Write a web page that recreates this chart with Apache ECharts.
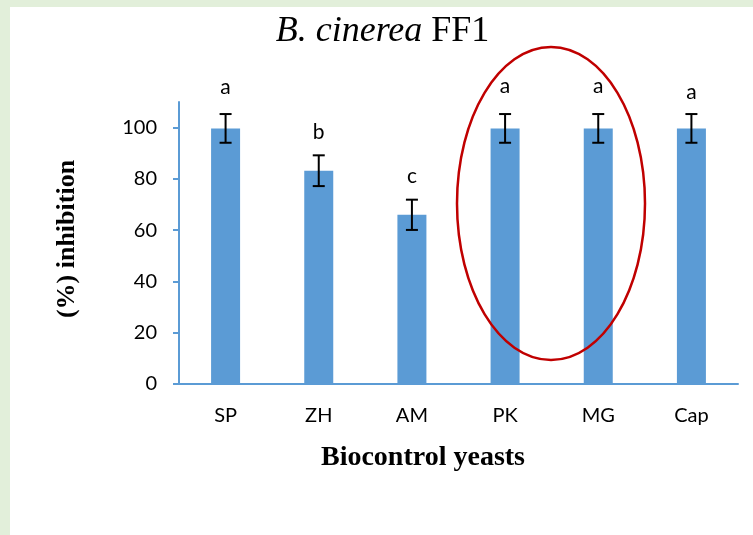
<!DOCTYPE html>
<html>
<head>
<meta charset="utf-8">
<script src="https://cdn.jsdelivr.net/npm/echarts@6/dist/echarts.min.js"></script>
<style>
html,body{margin:0;padding:0;background:#e2efda;}
#white{position:absolute;left:10px;top:7px;width:743px;height:528px;background:#ffffff;}
#chart{position:absolute;left:0;top:0;width:753px;height:535px;}
</style>
</head>
<body>
<div id="white"></div>
<div id="chart"></div>
<script>
const categories = ['SP', 'ZH', 'AM', 'PK', 'MG', 'Cap'];
const values = [99.7, 83.2, 66.0, 99.7, 99.7, 99.7];
const errors = [5.6, 6.0, 5.9, 5.6, 5.6, 5.6];
const letters = ['a', 'b', 'c', 'a', 'a', 'a'];
const yTicks = [0, 20, 40, 60, 80, 100];

const letterGap = [27, 23, 23, 28, 28, 22];

const chart = echarts.init(document.getElementById('chart'), null, {renderer: 'canvas'});
const blue = '#5b9bd5';
const labelFont = 'Lato, "Open Sans", sans-serif';
const serif = '"Liberation Serif", "Times New Roman", serif';

const option = {
  backgroundColor: 'transparent',
  animation: false,
  grid: {left: 179, right: 15, top: 102, bottom: 151, containLabel: false},
  xAxis: {
    type: 'category',
    data: categories,
    axisLine: {show: true, lineStyle: {color: blue, width: 2}},
    axisTick: {show: false},
    axisLabel: {color: '#000', fontFamily: labelFont, fontSize: 20, margin: 22}
  },
  yAxis: {
    type: 'value',
    min: 0, max: 110, interval: 20,
    axisLine: {show: true, lineStyle: {color: blue, width: 2}},
    axisTick: {show: true, length: 6, lineStyle: {color: blue, width: 2}, customValues: yTicks},
    axisLabel: {color: '#000', fontFamily: labelFont, fontSize: 20, margin: 22, customValues: yTicks},
    splitLine: {show: false}
  },
  series: [
    {
      type: 'bar',
      data: values,
      barWidth: 29,
      itemStyle: {color: blue},
      z: 2
    },
    {
      type: 'custom',
      z: 5,
      data: categories.map((c, i) => [i, values[i], errors[i]]),
      renderItem: function (params, api) {
        const i = api.value(0);
        const v = api.value(1);
        const e = api.value(2);
        const top = api.coord([i, v + e]);
        const bot = api.coord([i, v - e]);
        const hw = 6;
        const st = {stroke: '#000', lineWidth: 2};
        return {
          type: 'group',
          children: [
            {type: 'line', shape: {x1: top[0], y1: top[1], x2: bot[0], y2: bot[1]}, style: st},
            {type: 'line', shape: {x1: top[0] - hw, y1: top[1], x2: top[0] + hw, y2: top[1]}, style: st},
            {type: 'line', shape: {x1: bot[0] - hw, y1: bot[1], x2: bot[0] + hw, y2: bot[1]}, style: st},
            {type: 'text', x: top[0], y: top[1] - letterGap[params.dataIndex],
             style: {text: letters[params.dataIndex], fill: '#000', font: '21px ' + labelFont, align: 'center', verticalAlign: 'middle'}}
          ]
        };
      }
    }
  ],
  graphic: [
    {
      type: 'text', x: 382.5, y: 32, z: 10,
      style: {
        text: '{i|B. cinerea} {n|FF1}',
        align: 'center', verticalAlign: 'middle',
        rich: {
          i: {fontFamily: serif, fontStyle: 'italic', fontSize: 36, fill: '#000', color: '#000'},
          n: {fontFamily: serif, fontSize: 36, fill: '#000', color: '#000'}
        },
        font: '36px ' + serif, fill: '#000'
      }
    },
    {
      type: 'text', x: 67, y: 239, rotation: Math.PI / 2, z: 10,
      style: {text: '(%) inhibition', font: 'bold 26px ' + serif, fill: '#000', align: 'center', verticalAlign: 'middle'}
    },
    {
      type: 'text', x: 423, y: 458, z: 10,
      style: {text: 'Biocontrol yeasts', font: 'bold 28px ' + serif, fill: '#000', align: 'center', verticalAlign: 'middle'}
    },
    {
      type: 'ellipse', z: 100,
      shape: {cx: 551, cy: 203.5, rx: 94, ry: 156.5},
      style: {fill: null, stroke: '#c00000', lineWidth: 2.5}
    }
  ]
};
chart.setOption(option);
</script>
</body>
</html>
